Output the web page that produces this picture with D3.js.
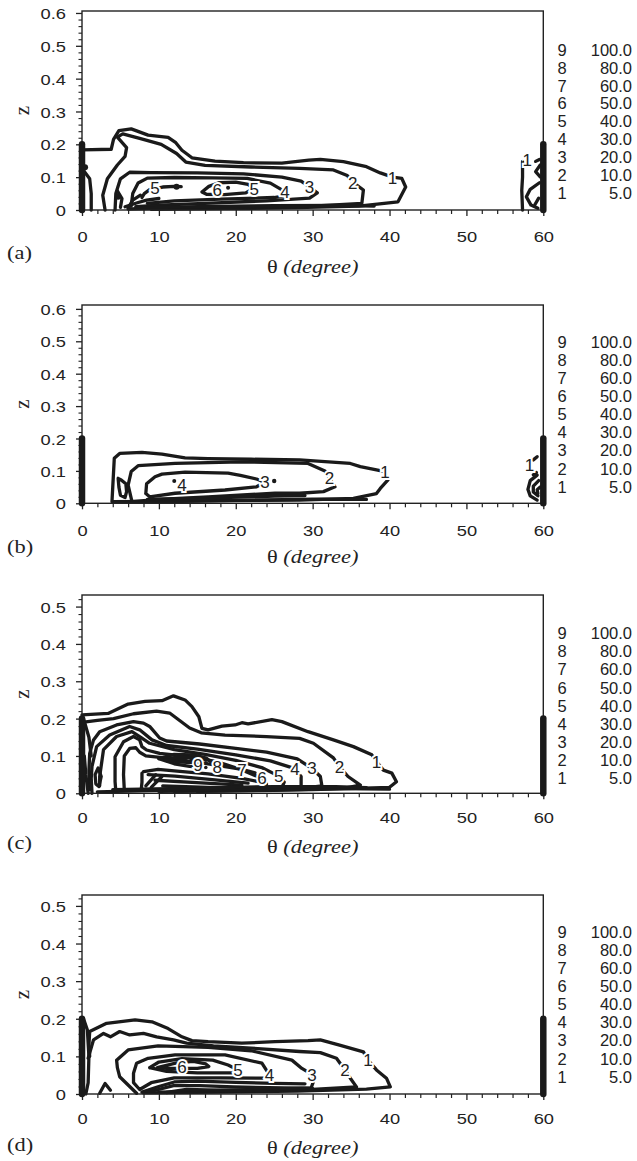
<!DOCTYPE html>
<html>
<head>
<meta charset="utf-8">
<script src="https://cdn.jsdelivr.net/npm/d3@7"></script>
<style>
  body { margin: 0; background: #fff; }
  svg { display: block; }
  .sans { font-family: "Liberation Sans", Arial, Helvetica, sans-serif; }
  .serif { font-family: "Liberation Serif", "Times New Roman", Times, serif; }
</style>
</head>
<body>
<svg id="chart" width="637" height="1161"></svg>
<script>
// Contour level key: index -> value
const legendLevels = [9, 8, 7, 6, 5, 4, 3, 2, 1];
const legendValues = [100, 80, 60, 50, 40, 30, 20, 10, 5];

// Axis ticks
const thetaTicks = [0, 10, 20, 30, 40, 50, 60];
const zTicksTall = [0, 0.1, 0.2, 0.3, 0.4, 0.5, 0.6];
const zTicksShort = [0, 0.1, 0.2, 0.3, 0.4, 0.5];

// Thick wall segments at the side boundaries: [θ, z from, z to]
const wallBars = [[0, 0, 0.2], [60, 0, 0.2]];

// ---- Panel (a): contour polylines as [θ, z] ----
const linesA = [
  [[0,0.183],[3.8,0.185],[4.1,0.215],[4.8,0.242],[6.4,0.247],[8.6,0.228],[11.2,0.221],[12.2,0.205],[13.0,0.182],[14.3,0.159],[17.3,0.149],[21,0.144],[26,0.143],[29.5,0.152],[31,0.154],[34,0.147],[37,0.132],[38.8,0.113],[40.4,0.1],[41.6,0.096],[42.1,0.07],[41.1,0.025],[36,0.012],[28,0.007],[18,0.004],[9,0.002]],
  [[3.0,0],[2.7,0.045],[3.3,0.095],[4.6,0.137],[5.6,0.163],[5.8,0.19],[4.6,0.222],[5.3,0.232],[7.5,0.218],[10.3,0.2],[12.3,0.172],[13.5,0.146],[16,0.136],[22,0.131],[28.3,0.127],[32.7,0.122],[34.5,0.105],[35.2,0.085],[36.6,0.061],[36.4,0.02],[30,0.012],[20,0.008],[10,0.005],[6,0.003]],
  [[4.3,0.0],[4.4,0.05],[5.0,0.095],[6.2,0.115],[9,0.114],[15,0.113],[21,0.11],[26,0.1],[28.5,0.088],[29.6,0.07],[30.6,0.052],[29.6,0.036],[24,0.028],[16,0.02],[10,0.015],[7,0.01]],
  [[6.4,0.012],[6.6,0.05],[7.3,0.082],[8.5,0.097],[12,0.099],[17,0.098],[21.5,0.096],[24.5,0.082],[26.4,0.056],[26.8,0.045],[25,0.038],[18,0.033],[12,0.028],[8.5,0.02]],
  [[15.6,0.055],[16.5,0.072],[17.8,0.083],[20,0.085],[21.6,0.078],[22.3,0.066],[21.3,0.052],[18.5,0.047],[16.2,0.048],[15.6,0.055]],
  [[7.8,0.038],[8.1,0.05],[8.8,0.062],[10.5,0.07],[12.0,0.072],[12.9,0.071]],
  [[4.6,0.058],[5.2,0.035],[5.0,0.008]],
  [[6.0,0.005],[6.6,0.03],[7.6,0.045]],
  [[5.6,0.01],[7.2,0.022],[8.4,0.03],[10,0.035]],
  [[0.2,0.12],[1.0,0.095],[1.2,0.05],[1.2,0.0]],
  [[7,0.006],[15,0.01],[25,0.013],[33,0.014],[38,0.012]],
  [[57.3,0.148],[57.3,0.1],[57.2,0.06],[57.3,0.0]],
  [[59.0,0.148],[59.5,0.154]],
  [[59.6,0.137],[59.0,0.117],[59.6,0.101]],
  [[59.5,0.083],[58.3,0.063],[57.8,0.04],[58.4,0.015],[59.3,0.005]],
  [[59.4,0.036],[58.9,0.016]]
];
const labelsA = [["1",40.4,0.098],["2",35.2,0.083],["3",29.6,0.069],["4",26.4,0.054],["5",22.4,0.064],["6",17.6,0.062],["5",9.5,0.068],["1",57.9,0.152]];
const dotsA = [[19,0.068,2],[4.7,0.04,3],[12.3,0.071,3],[0.4,0.13,3]];

// ---- Panel (b) ----
const linesB = [
  [[3.9,0.005],[4.0,0.05],[4.2,0.139],[4.9,0.154],[7.8,0.157],[10.4,0.152],[13.4,0.14],[16.4,0.138],[22,0.136],[28.3,0.134],[34.9,0.123],[36.2,0.113],[38.3,0.103],[39.4,0.098],[39.8,0.072],[38.8,0.046],[38.3,0.03],[35.3,0.015],[28.3,0.01],[18,0.008],[10,0.006],[3.9,0.005]],
  [[4.7,0.077],[5.1,0.072],[5.7,0.06],[5.8,0.036],[5.6,0.018],[5.0,0.025],[4.8,0.05],[4.7,0.077]],
  [[6.5,0.005],[6.0,0.056],[6.4,0.098],[7.3,0.116],[12.1,0.123],[20.8,0.128],[29.4,0.123],[31.6,0.1],[32.2,0.077],[32.9,0.051],[31.4,0.036],[28.3,0.031],[25.1,0.031],[16.4,0.02],[10,0.012],[6.5,0.005]],
  [[8.3,0.03],[8.4,0.06],[9.5,0.082],[10.4,0.09],[13.4,0.096],[19.0,0.093],[20.6,0.086],[22.7,0.075],[23.8,0.065],[22.7,0.051],[18.6,0.041],[12.1,0.031],[8.8,0.02],[8.3,0.03]],
  [[7.5,0.004],[20,0.009],[30,0.013],[37,0.012]],
  [[8.5,0.012],[16,0.016],[25,0.022],[29,0.024]],
  [[58.7,0.134],[59.2,0.144]],
  [[58.7,0.088],[59.1,0.095]],
  [[59.2,0.087],[58.3,0.07],[58.0,0.043],[58.3,0.023],[59.2,0.01]],
  [[59.4,0.07],[58.7,0.053],[58.7,0.035],[59.3,0.023]],
  [[59.6,0.05],[59.2,0.042],[59.3,0.03]]
];
const labelsB = [["1",39.4,0.098],["2",32.2,0.077],["3",23.8,0.065],["4",13.0,0.058],["1",58.2,0.118]];
const dotsB = [[25,0.069,2.2],[12,0.069,2]];

// ---- Panel (c) ----
const linesC = [
  [[0,0.21],[3.4,0.214],[6.0,0.239],[8.2,0.246],[10.4,0.248],[11.9,0.261],[13.4,0.25],[14.3,0.232],[15.2,0.205],[15.6,0.174],[16.4,0.17],[18.2,0.18],[19.9,0.183],[20.8,0.189],[21.6,0.186],[24.7,0.197],[26,0.192],[29.4,0.165],[32.7,0.143],[35.3,0.125],[37.7,0.103],[38.3,0.085],[39.2,0.062],[40.3,0.054],[40.9,0.031],[40,0.016],[30,0.01],[20,0.007],[10,0.005]],
  [[0,0.19],[2,0.195],[4.1,0.2],[6.7,0.213],[9.7,0.22],[11.4,0.215],[12.7,0.195],[14,0.175],[15.5,0.162],[18.6,0.156],[24,0.152],[28.3,0.147],[30.1,0.134],[32.7,0.095],[33.5,0.071],[34.6,0.045],[36.2,0.022],[34,0.013],[25,0.008],[15,0.005]],
  [[1.0,0.01],[0.9,0.06],[1.0,0.107],[1.5,0.143],[2.3,0.165],[4.5,0.183],[6.7,0.192],[8.0,0.188],[8.8,0.179],[10.1,0.148],[11,0.14],[15.3,0.132],[20,0.12],[24,0.11],[28,0.092],[29.9,0.067],[31,0.045],[31.2,0.02],[28,0.012],[20,0.008],[12,0.005]],
  [[1.3,0.0],[1.2,0.04],[1.3,0.072],[1.9,0.125],[3.6,0.156],[6.2,0.179],[7.5,0.17],[9.1,0.143],[11,0.128],[15,0.118],[20,0.103],[24.5,0.087],[27.7,0.066],[28.5,0.045],[28.5,0.02]],
  [[2.3,0.02],[2.3,0.045],[2.8,0.117],[4.5,0.152],[6.5,0.165],[7.5,0.152],[8.8,0.134],[12,0.117],[16,0.104],[20,0.088],[23.5,0.068],[25.6,0.046],[26.3,0.03],[26,0.015]],
  [[4.4,0.005],[4.3,0.031],[4.3,0.098],[5.4,0.138],[6.7,0.152],[7.5,0.143],[7.8,0.125],[8.4,0.116],[10.1,0.107],[14,0.098],[17.5,0.085],[20.5,0.065],[23.4,0.04],[24,0.025],[23.8,0.012]],
  [[5.5,0.01],[5.4,0.05],[5.5,0.1],[6.2,0.12],[7.0,0.122],[7.5,0.11],[8.3,0.1],[12,0.092],[16,0.08],[20.8,0.064],[22.5,0.055]],
  [[10,0.093],[12,0.104],[14.5,0.103],[16.2,0.094],[17.5,0.071]],
  [[10,0.093],[12,0.079],[14,0.072],[15.5,0.07]],
  [[10.8,0.09],[12.3,0.097],[14,0.096],[15.1,0.076]],
  [[10.8,0.09],[12.5,0.084],[14.2,0.082]],
  [[7.8,0.054],[7.8,0.03],[7.7,0.008]],
  [[8.0,0.058],[9.9,0.064],[12,0.06],[16.4,0.052],[20.8,0.04],[23,0.031]],
  [[8.6,0.05],[12.1,0.046],[17.3,0.036],[21.6,0.027]],
  [[9.5,0.035],[14.3,0.029],[20.8,0.022]],
  [[10.5,0.02],[16.4,0.016],[22,0.014]],
  [[8.3,0.02],[9.6,0.05]],
  [[9.0,0.016],[10.4,0.045]],
  [[1.7,0.05],[2.1,0.068],[2.5,0.045],[2.2,0.018],[1.8,0.025],[1.7,0.05]],
  [[0.2,0.2],[0.9,0.15],[1.2,0.1]],
  [[0.3,0.1],[0.5,0.05],[0.8,0.0]],
  [[2,0.004],[10,0.008],[20,0.011],[30,0.013],[40,0.011]],
  [[4,0.01],[15,0.014],[25,0.018],[33,0.018],[37,0.015]]
];
const labelsC = [["1",38.3,0.085],["2",33.5,0.071],["3",29.9,0.068],["4",27.7,0.066],["5",25.6,0.046],["6",23.4,0.04],["7",20.8,0.064],["8",17.6,0.071],["9",15.1,0.076]];
const dotsC = [[16.1,0.082,1.8],[16.1,0.069,1.8]];

// ---- Panel (d) ----
const linesD = [
  [[1.0,0.1],[0.9,0.13],[1.0,0.166],[3.2,0.188],[6.9,0.197],[9.1,0.192],[11.2,0.174],[13.0,0.152],[14.3,0.142],[16.4,0.139],[20.8,0.135],[25.1,0.139],[29.4,0.142],[31,0.144],[33.5,0.13],[36.6,0.112],[37.2,0.09],[38.3,0.064],[39.6,0.042],[40.1,0.019],[37,0.013],[28,0.008],[18,0.005],[8,0.003]],
  [[0.8,0.095],[1.5,0.144],[2.8,0.161],[3.7,0.152],[4.9,0.166],[6.2,0.157],[8.0,0.161],[9.7,0.152],[11.9,0.144],[13.6,0.135],[17.1,0.128],[22,0.122],[28.3,0.113],[31,0.11],[33.1,0.095],[34.2,0.064],[34.9,0.042],[35.7,0.019],[30,0.012],[20,0.008],[10,0.005]],
  [[7.1,0.002],[6.2,0.02],[4.9,0.046],[4.6,0.07],[4.5,0.09],[6.0,0.117],[9.9,0.128],[16.4,0.124],[22,0.115],[27.3,0.09],[28.6,0.068],[29.9,0.052],[30.1,0.033],[29.8,0.016],[24,0.013],[15,0.008]],
  [[7.5,0.012],[6.7,0.03],[6.7,0.055],[7.1,0.082],[8.6,0.095],[12.1,0.104],[18.6,0.104],[23.4,0.082],[24.4,0.05],[23.5,0.042],[18,0.043],[12,0.043],[9,0.03],[7.5,0.012]],
  [[8.8,0.07],[10,0.085],[13,0.094],[17,0.09],[19,0.077],[20.3,0.064],[19.5,0.056],[15,0.056],[11,0.06],[8.8,0.07]],
  [[9.8,0.07],[12.3,0.083],[14.5,0.087],[16.1,0.08],[16.5,0.073],[15,0.068],[11,0.068],[9.8,0.07]],
  [[7.8,0.005],[10,0.02],[12,0.032],[15,0.034],[20,0.031],[25,0.028],[29,0.027]],
  [[8.8,0.006],[11.9,0.022],[15.3,0.022],[19.7,0.019],[26.2,0.016],[30,0.015]],
  [[11,0.004],[13.6,0.012],[17.5,0.01],[24,0.008]],
  [[2.3,0.002],[3.0,0.028],[3.7,0.01]],
  [[0.2,0.2],[0.7,0.17],[0.9,0.1],[0.8,0.03],[0.5,0.0]]
];
const labelsD = [["1",37.2,0.09],["2",34.2,0.064],["3",29.9,0.052],["4",24.4,0.05],["5",20.3,0.064],["6",13.0,0.073]];
const dotsD = [];

// ---- Layout of the four stacked panels ----
const panelLayout = [
  { tag: "(a)", lines: linesA, labels: labelsA, dots: dotsA, zTicks: zTicksTall,
    top: 11, bottom: 210, zMax: 0.606, tickY: 236, tagY: 253, titleY: 267, legTop: 50, legBottom: 192.7 },
  { tag: "(b)", lines: linesB, labels: labelsB, dots: dotsB, zTicks: zTicksTall,
    top: 305, bottom: 503.3, zMax: 0.612, tickY: 530, tagY: 547, titleY: 557, legTop: 341.7, legBottom: 486.7 },
  { tag: "(c)", lines: linesC, labels: labelsC, dots: dotsC, zTicks: zTicksShort,
    top: 595, bottom: 793.3, zMax: 0.531, tickY: 817, tagY: 843, titleY: 847, legTop: 633.3, legBottom: 778.3 },
  { tag: "(d)", lines: linesD, labels: labelsD, dots: dotsD, zTicks: zTicksShort,
    top: 895, bottom: 1094, zMax: 0.529, tickY: 1118, tagY: 1145, titleY: 1148, legTop: 931.7, legBottom: 1076.7 }
];

const svg = d3.select("#chart");
const x = d3.scaleLinear().domain([0, 60]).range([82, 543.3]);
const fmt1 = d3.format(".1f");
const ink = "#1a1a1a";
const widen = 1.18;   // the printed lettering is set slightly wide

panelLayout.forEach(p => {
  const y = d3.scaleLinear().domain([0, p.zMax]).range([p.bottom, p.top]);
  const g = svg.append("g");
  const line = d3.line().x(d => x(d[0])).y(d => y(d[1]));

  // contour lines
  g.append("g").selectAll("path")
    .data(p.lines).join("path")
    .attr("d", line)
    .attr("fill", "none")
    .attr("stroke", ink)
    .attr("stroke-width", 3.3)
    .attr("stroke-linejoin", "round")
    .attr("stroke-linecap", "round");

  // tiny closed contours drawn as dots
  g.append("g").selectAll("circle")
    .data(p.dots).join("circle")
    .attr("cx", d => x(d[0]))
    .attr("cy", d => y(d[1]))
    .attr("r", d => d[2])
    .attr("fill", ink);

  // contour labels with a white knockout
  g.append("g").attr("class", "sans").selectAll("text")
    .data(p.labels).join("text")
    .attr("x", d => x(d[1]))
    .attr("y", d => y(d[2]))
    .attr("dy", "0.36em")
    .attr("text-anchor", "middle")
    .style("font-size", "17px")
    .attr("fill", "#222")
    .attr("stroke", "#fff")
    .attr("stroke-width", 4)
    .attr("paint-order", "stroke")
    .text(d => d[0]);

  // frame
  g.append("rect")
    .attr("x", x(0)).attr("y", p.top)
    .attr("width", x(60) - x(0)).attr("height", p.bottom - p.top)
    .attr("fill", "none").attr("stroke", "#222").attr("stroke-width", 1.4);

  // x axis: major + minor ticks
  const xMajor = g.append("g").attr("transform", `translate(0,${p.bottom})`)
    .call(d3.axisBottom(x).tickValues(thetaTicks).tickSize(6).tickSizeOuter(0).tickFormat(d3.format("d")));
  xMajor.select(".domain").remove();
  xMajor.selectAll("line").attr("stroke", "#222").attr("stroke-width", 1.3);
  xMajor.selectAll("text")
    .attr("class", "sans")
    .attr("y", p.tickY - p.bottom).attr("dy", "0.36em")
    .attr("transform", `scale(${widen},1)`)
    .attr("font-family", null)
    .style("font-size", "15.5px").attr("fill", "#222");
  const xMinor = g.append("g").attr("transform", `translate(0,${p.bottom})`)
    .call(d3.axisBottom(x).tickValues(d3.range(0, 61, 2).filter(v => v % 10 !== 0)).tickSize(4).tickSizeOuter(0).tickFormat(""));
  xMinor.select(".domain").remove();
  xMinor.selectAll("line").attr("stroke", "#222").attr("stroke-width", 1.2);

  // z axis: major + minor ticks
  const yMajor = g.append("g").attr("transform", `translate(${x(0)},0)`)
    .call(d3.axisLeft(y).tickValues(p.zTicks).tickSize(6).tickSizeOuter(0)
      .tickFormat(d => d === 0 ? "0" : fmt1(d)));
  yMajor.select(".domain").remove();
  yMajor.selectAll("line").attr("stroke", "#222").attr("stroke-width", 1.3);
  yMajor.selectAll("text")
    .attr("class", "sans")
    .attr("x", -16 / widen).attr("dy", "0.36em")
    .attr("transform", `scale(${widen},1)`)
    .attr("font-family", null)
    .style("font-size", "15.5px").attr("fill", "#222");
  const minorZ = d3.range(0, p.zMax - 0.005, 0.02).map(v => +v.toFixed(2))
    .filter(v => Math.abs(v * 10 - Math.round(v * 10)) > 1e-6);
  const yMinor = g.append("g").attr("transform", `translate(${x(0)},0)`)
    .call(d3.axisLeft(y).tickValues(minorZ).tickSize(3.5).tickSizeOuter(0).tickFormat(""));
  yMinor.select(".domain").remove();
  yMinor.selectAll("line").attr("stroke", "#222").attr("stroke-width", 1.1);

  // thick wall segments
  g.append("g").selectAll("line")
    .data(wallBars).join("line")
    .attr("x1", d => x(d[0])).attr("x2", d => x(d[0]))
    .attr("y1", d => y(d[1])).attr("y2", d => y(d[2]))
    .attr("stroke", ink).attr("stroke-width", 6.5).attr("stroke-linecap", "round");

  // axis titles and panel tag
  g.append("text")
    .attr("class", "serif")
    .attr("transform", `translate(23,${(p.top + p.bottom) / 2}) rotate(-90)`)
    .attr("text-anchor", "middle").attr("dy", "0.3em")
    .style("font-size", "21px").attr("fill", "#222")
    .text("z");
  const title = g.append("text")
    .attr("class", "serif")
    .attr("transform", `translate(${(x(0) + x(60)) / 2},${p.titleY}) scale(${widen},1)`)
    .attr("dy", "0.32em")
    .attr("text-anchor", "middle")
    .style("font-size", "19px").attr("fill", "#222");
  title.append("tspan").text("θ ");
  title.append("tspan").style("font-style", "italic").text("(degree)");
  g.append("text")
    .attr("class", "serif")
    .attr("transform", `translate(7,${p.tagY}) scale(${widen},1)`)
    .attr("dy", "0.32em")
    .style("font-size", "19px").attr("fill", "#222")
    .text(p.tag);

  // level key on the right
  const step = (p.legBottom - p.legTop) / (legendLevels.length - 1);
  const key = g.append("g").attr("class", "sans").style("font-size", "16.5px").attr("fill", "#222");
  key.selectAll("text.lv").data(legendLevels).join("text")
    .attr("class", "lv")
    .attr("x", 562).attr("y", (d, i) => p.legTop + i * step).attr("dy", "0.36em")
    .attr("text-anchor", "middle")
    .text(d => d);
  key.selectAll("text.val").data(legendValues).join("text")
    .attr("class", "val")
    .attr("x", 632).attr("y", (d, i) => p.legTop + i * step).attr("dy", "0.36em")
    .attr("text-anchor", "end")
    .text(d => fmt1(d));
});
</script>
</body>
</html>
